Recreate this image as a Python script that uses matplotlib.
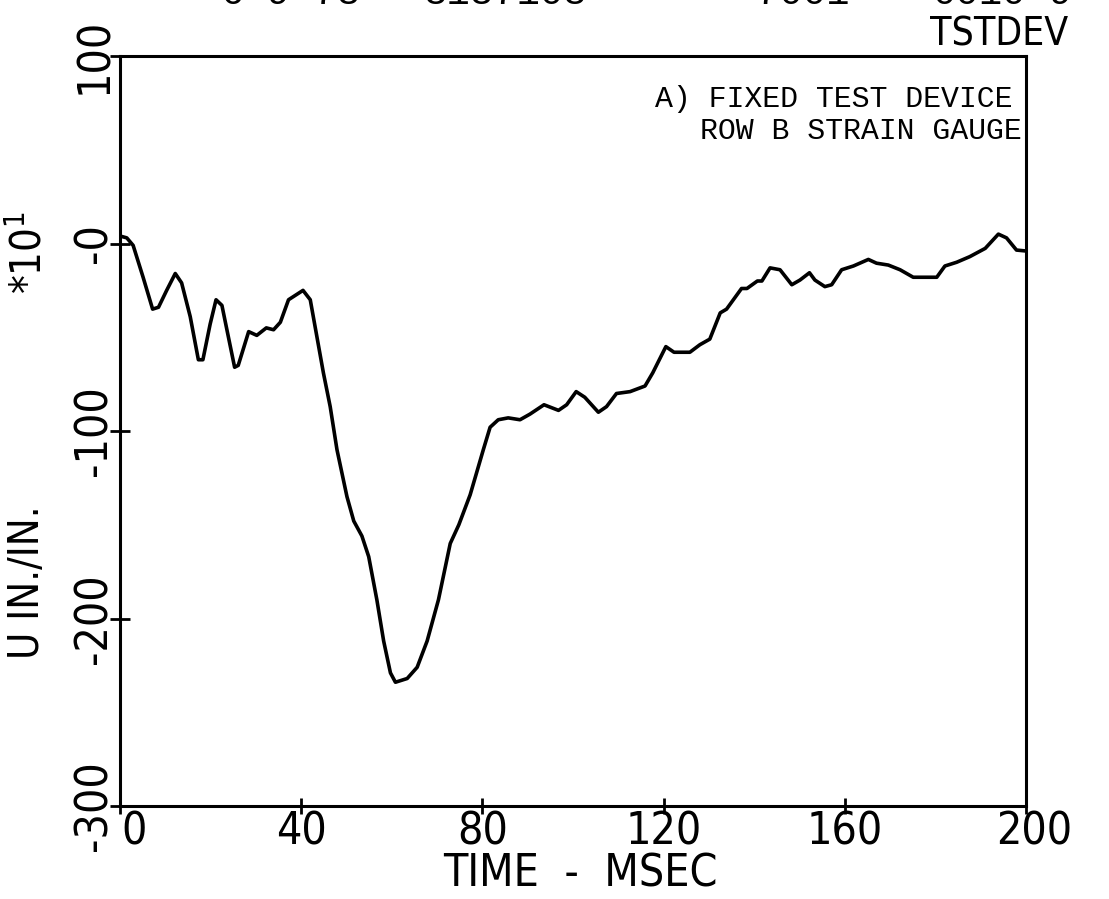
import numpy as np
import matplotlib
matplotlib.use("Agg")
from matplotlib import pyplot as plt
from matplotlib import font_manager
from matplotlib.transforms import ScaledTranslation

time_ms = [0.0, 1.5, 2.9, 5.1, 7.2, 8.5, 10.3, 12.2, 13.6, 15.5, 17.3, 18.3, 19.9,
           21.2, 22.5, 23.6, 25.3, 26.1, 28.4, 30.2, 32.3, 33.9, 35.4, 37.2, 40.4,
           42.0, 44.9, 46.4, 47.9, 50.1, 51.6, 53.4, 54.9, 56.7, 58.2, 59.7, 60.8,
           63.4, 65.6, 67.8, 70.3, 72.9, 74.8, 77.3, 80.2, 81.7, 83.5, 85.7, 88.3,
           90.5, 93.6, 96.8, 98.6, 100.7, 102.6, 105.6, 107.4, 109.6, 112.6, 115.9,
           117.6, 120.5, 122.3, 125.8, 128.0, 130.2, 132.5, 133.9, 137.2, 138.4,
           140.7, 141.7, 143.5, 145.7, 148.3, 150.1, 152.2, 153.4, 155.6, 157.1,
           159.3, 161.9, 165.2, 167.0, 169.6, 172.2, 175.1, 180.3, 182.1, 184.7,
           187.6, 191.0, 193.9, 195.7, 197.9, 200.0]
strain = [4, 3, -1, -18, -35, -34, -25, -16, -21, -39, -62, -62, -43,
          -30, -33, -46, -66, -65, -47, -49, -45, -46, -42, -30, -25,
          -30, -69, -87, -110, -135, -148, -156, -167, -190, -212, -229, -234,
          -232, -226, -212, -190, -160, -150, -134, -110, -98, -94, -93, -94,
          -91, -86, -89, -86, -79, -82, -90, -87, -80, -79, -76,
          -69, -55, -58, -58, -54, -51, -37, -35, -24, -24,
          -20, -20, -13, -14, -22, -19.5, -15.6, -19.5, -23, -22,
          -14, -12, -8.5, -10.5, -11.5, -14, -18, -18, -12, -10,
          -7, -2.6, 5, 3, -3.5, -4]

x_ticks = [0, 40, 80, 120, 160, 200]
x_tick_labels = ["0", "40", "80", "120", "160", "200"]
y_ticks = [-300, -200, -100, 0, 100]
y_tick_labels = ["-300", "-200", "-100", "-0", "100"]

header = ["6-9-78", "3137108", "7001", "0010-9"]
header_x = [290, 505, 803, 1003]

W, H = 1109, 899
PLOT_FONT = font_manager.FontProperties(family="DejaVu Sans", stretch="condensed", size=31)
TYPE_FONT = ["Liberation Mono", "DejaVu Sans Mono"]


def plot_font(size):
    fp = PLOT_FONT.copy()
    fp.set_size(size)
    return fp


plt.rcParams["mathtext.default"] = "regular"

fig = plt.figure(figsize=(W / 100, H / 100), dpi=100)
ax = fig.add_axes([120 / W, 1 - 806 / H, 906 / W, 750 / H])

ax.plot(time_ms, strain, color="black", lw=2.6, solid_joinstyle="round")

ax.set_xlim(0, 200)
ax.set_ylim(-300, 100)
ax.set_xticks(x_ticks)
ax.set_xticklabels(x_tick_labels, fontproperties=plot_font(32))
ax.set_yticks(y_ticks)
ax.set_yticklabels(y_tick_labels, fontproperties=plot_font(32),
                   rotation=90, va="center")
ax.tick_params(axis="x", direction="inout", length=12, width=2, pad=-3)
ax.tick_params(axis="y", direction="inout", length=14, width=2, pad=-4)
for spine in ax.spines.values():
    spine.set_linewidth(2.2)

# end labels sit a little right of their ticks, as on the plotter output
xlabels = ax.get_xticklabels()
xlabels[0].set_transform(xlabels[0].get_transform()
                         + ScaledTranslation(14 / 100, 0, fig.dpi_scale_trans))
xlabels[-1].set_transform(xlabels[-1].get_transform()
                          + ScaledTranslation(8 / 100, 0, fig.dpi_scale_trans))

fig.text(580 / W, 1 - 874 / H, "TIME  -  MSEC", fontproperties=plot_font(32),
         ha="center", va="center")
fig.text(27 / W, 1 - 582 / H, "U IN./IN.", fontproperties=plot_font(30),
         rotation=90, ha="center", va="center")
fig.text(30 / W, 1 - 252 / H, "*10$^{1}$", fontproperties=plot_font(30),
         rotation=90, ha="center", va="center")

fig.text(655 / W, 1 - 107 / H, "A) FIXED TEST DEVICE", family=TYPE_FONT,
         fontsize=21.5, ha="left", va="baseline")
fig.text(700 / W, 1 - 139 / H, "ROW B STRAIN GAUGE", family=TYPE_FONT,
         fontsize=21.5, ha="left", va="baseline")

fig.text(1068 / W, 1 - 46 / H, "TSTDEV", fontproperties=plot_font(28),
         ha="right", va="baseline")
for label, xpos in zip(header, header_x):
    fig.text(xpos / W, 1 + 6 / H, label, family=TYPE_FONT, fontsize=28,
             ha="center", va="center")

fig.savefig("out.png", dpi=100, facecolor="white")
